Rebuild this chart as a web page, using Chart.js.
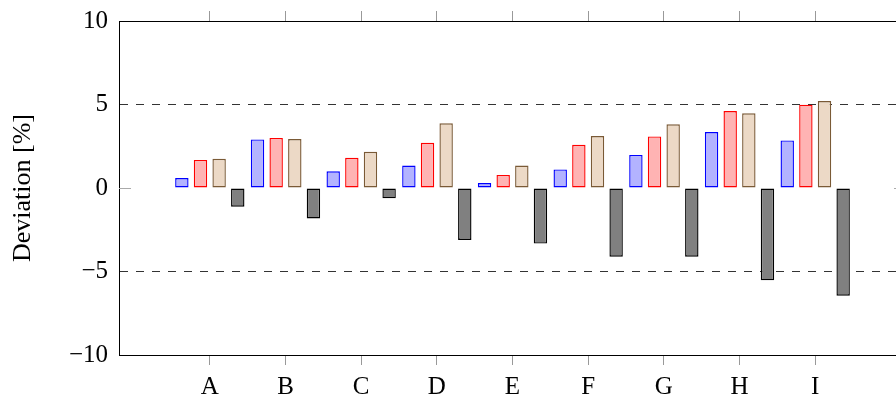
<!DOCTYPE html>
<html>
<head>
<meta charset="utf-8">
<script src="https://cdn.jsdelivr.net/npm/chart.js@4.4.0/dist/chart.umd.min.js"></script>
<style>
html, body { margin: 0; padding: 0; overflow: hidden; background: #fff; }
</style>
</head>
<body>
<canvas id="chart" width="912" height="398"></canvas>
<script>
// categories and the four series
const categories = ['A', 'B', 'C', 'D', 'E', 'F', 'G', 'H', 'I'];
const blueVals = [0.6, 2.91, 1.0, 1.34, 0.3, 1.11, 1.98, 3.35, 2.85];
const redVals = [1.68, 3.0, 1.81, 2.71, 0.78, 2.59, 3.09, 4.61, 4.99];
const tanVals = [1.75, 2.93, 2.17, 3.87, 1.34, 3.11, 3.81, 4.47, 5.21];
const grayVals = [-1.12, -1.82, -0.62, -3.11, -3.33, -4.11, -4.11, -5.53, -6.45];
const yTicks = [-10, -5, 0, 5, 10];

const font = { family: 'Liberation Serif', size: 25 };
const toPoints = vals => vals.map((v, i) => ({ x: i, y: v }));
const catTicks = s => { s.ticks = categories.map((c, i) => ({ value: i })); };

// short gray tick marks on the inside of the frame at y = 0
const zeroTicks = {
    id: 'zeroTicks',
    beforeDatasetsDraw(chart) {
        const { ctx, chartArea: a, scales: { y } } = chart;
        const py = Math.round(y.getPixelForValue(0)) + 0.5;
        ctx.save();
        ctx.strokeStyle = '#aaa';
        ctx.lineWidth = 1;
        ctx.beginPath();
        ctx.moveTo(a.left, py);
        ctx.lineTo(a.left + 12, py);
        ctx.moveTo(a.right - 12, py);
        ctx.lineTo(a.right, py);
        ctx.stroke();
        ctx.restore();
    }
};

var chartArea = document.getElementById('chart').getContext('2d');
var myChart = new Chart(chartArea, {
    type: 'bar',
    data: {
        datasets: [
            { data: toPoints(blueVals), backgroundColor: '#b3b3ff', borderColor: '#0000ff' },
            { data: toPoints(redVals), backgroundColor: '#ffb3b3', borderColor: '#ff0000' },
            { data: toPoints(tanVals), backgroundColor: '#ecd9c6', borderColor: '#7a5a36' },
            { data: toPoints(grayVals), backgroundColor: '#808080', borderColor: '#000000' }
        ]
    },
    options: {
        responsive: false,
        animation: false,
        layout: { padding: { left: 0, right: 6, top: 0, bottom: 0 } },
        plugins: { legend: { display: false }, tooltip: { enabled: false } },
        datasets: {
            bar: { categoryPercentage: 0.985, barPercentage: 0.72, borderWidth: 1.4, borderSkipped: false, inflateAmount: 0 }
        },
        scales: {
            x: {
                type: 'linear',
                position: 'bottom',
                offset: false,
                min: -1.2,
                max: 9.2,
                afterBuildTicks: catTicks,
                afterFit: s => { s.height = 43; },
                ticks: {
                    callback: v => categories[v] ?? '',
                    font: font,
                    color: '#000',
                    padding: 7,
                    maxRotation: 0,
                    autoSkip: false
                },
                grid: { offset: false, drawOnChartArea: false, drawTicks: true, tickLength: 10, color: '#999' },
                border: { color: '#000', width: 1 }
            },
            x2: {
                type: 'linear',
                position: 'top',
                offset: false,
                min: -1.2,
                max: 9.2,
                afterBuildTicks: catTicks,
                afterFit: s => { s.height = 21; },
                ticks: { display: false },
                grid: { offset: false, drawOnChartArea: false, drawTicks: true, tickLength: 10, color: '#999' },
                border: { color: '#000', width: 1 }
            },
            y: {
                min: -10,
                max: 10,
                afterBuildTicks: s => { s.ticks = yTicks.map(v => ({ value: v })); },
                afterFit: s => { s.width = 119; },
                ticks: {
                    callback: v => v < 0 ? '\u2212' + Math.abs(v) : String(v),
                    font: font,
                    color: '#000',
                    padding: 0
                },
                grid: {
                    drawTicks: true,
                    tickLength: 11,
                    tickColor: 'rgba(0,0,0,0)',
                    color: ctx => (ctx.tick && Math.abs(ctx.tick.value) === 5) ? '#333' : 'rgba(0,0,0,0)',
                    lineWidth: 1
                },
                border: { color: '#000', width: 1, dash: [8, 8] },
                title: {
                    display: true,
                    text: 'Deviation [%]',
                    font: { family: 'Liberation Serif', size: 26 },
                    color: '#000',
                    padding: { top: 8, bottom: 0 }
                }
            }
        }
    },
    plugins: [zeroTicks]
});
</script>
</body>
</html>
